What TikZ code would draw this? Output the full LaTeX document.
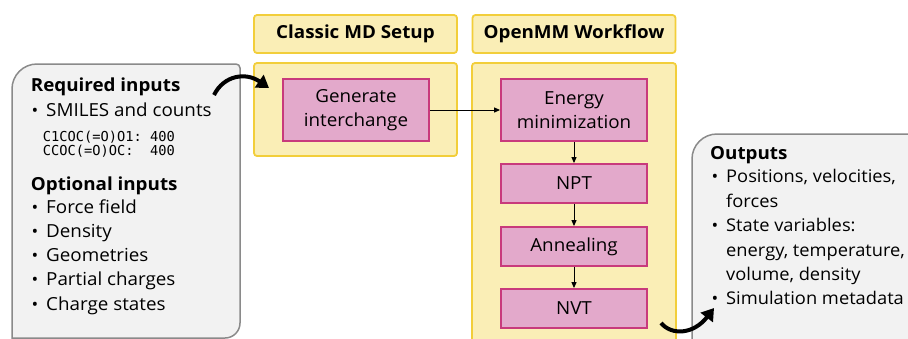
\documentclass[tikz,border=0pt]{standalone}
\usepackage{fontspec}
\setmainfont[FakeStretch=1.045]{Open Sans}
\setmonofont{DejaVu Sans Mono}
\usetikzlibrary{arrows.meta}
\definecolor{yfill}{HTML}{FAEEB6}
\definecolor{yborder}{HTML}{F2CE3A}
\definecolor{pfill}{HTML}{E3A9CB}
\definecolor{pborder}{HTML}{C83A7C}
\definecolor{gfill}{HTML}{F2F2F2}
\definecolor{gborder}{HTML}{8A8A8A}
\begin{document}
\begin{tikzpicture}[x=1pt,y=-1pt,
  txt/.style={anchor=base west, inner sep=0pt, font=\fontsize{18}{24}\selectfont},
  otxt/.style={anchor=base west, inner sep=0pt, font=\fontsize{17.5}{24}\selectfont},
  hd/.style={anchor=base west, inner sep=0pt, font=\fontsize{18}{24}\selectfont\bfseries},
  bul/.style={anchor=base, inner sep=0pt, font=\fontsize{17}{24}\selectfont},
  mono/.style={anchor=base west, inner sep=0pt, font=\fontsize{13.7}{16}\ttfamily},
  ybox/.style={draw=yborder, fill=yfill, line width=1.8pt, rounded corners=3pt, inner sep=0pt},
  pbox/.style={draw=pborder, fill=pfill, line width=1.8pt, inner sep=0pt, align=center,
    minimum width=146pt, font=\fontsize{18}{24}\selectfont},
  hbox/.style={ybox, minimum width=203pt, minimum height=38pt, font=\fontsize{18}{24}\selectfont\bfseries},
  flow/.style={-{Triangle[length=6pt,width=5pt]}, line width=1pt},
  big/.style={-{Triangle[length=12pt,width=15pt]}, line width=4pt}
]
\useasboundingbox (0,0) rectangle (908,338);
\clip (0,0) rectangle (908,338);
\fill[white] (0,0) rectangle (908,338);

% left input box
\draw[gborder, fill=gfill, line width=1.5pt]
  (12,345) -- (12,89) arc[start angle=180, end angle=270, radius=25]
  -- (236,64) arc[start angle=270, end angle=360, radius=4]
  -- (240,323) arc[start angle=0, end angle=90, radius=15]
  -- (12,338) -- cycle;

\node[hd] (req) at (30.7,91.7) {Required inputs};
\node[bul] (b0) at (35,116.7) {•};
\node[txt] (smi) at (46,116.7) {SMILES and counts};
\node[mono] (m1) at (42.7,141.7) {C1COC(=O)O1: 400};
\node[mono] (m2) at (42.7,155.5) {CCOC(=O)OC:\ \ 400};
\node[hd] (opt) at (30.7,190) {Optional inputs};
\foreach \t [count=\i from 0] in {Force field,Density,Geometries,Partial charges,Charge states}{
  \node[bul] (ob\i) at (35,213.3+24.2*\i) {•};
  \node[txt] (o\i) at (46,213.3+24.2*\i) {\t};
}

% output box
\draw[gborder, fill=gfill, line width=1.5pt]
  (692,345) -- (692,159) arc[start angle=180, end angle=270, radius=25]
  -- (915,134) -- (915,345) -- cycle;
\node[hd] (out) at (710,159.3) {Outputs};
\node[bul] (pb0) at (715,182.7) {•};
\node[otxt] (p0) at (726,182.7) {Positions, velocities,};
\node[otxt] (p1) at (726,207.2) {forces};
\node[bul] (pb1) at (715,231.6) {•};
\node[otxt] (p2) at (726,231.6) {State variables:};
\node[otxt] (p3) at (726,256.0) {energy, temperature,};
\node[otxt] (p4) at (726,280.4) {volume, density};
\node[bul] (pb2) at (715,304.8) {•};
\node[otxt] (p5) at (726,304.8) {Simulation metadata};

% headers
\node[hbox] (hclassic) at (355.5,34) {Classic MD Setup};
\node[hbox] (hopenmm) at (574,34) {OpenMM Workflow};

% containers
\draw[ybox] (254,63) rectangle (457,156);
\node (cclassic) at (355.5,109.5) {};
\draw[ybox] (472,63) rectangle (676,360);
\node (copenmm) at (574,200) {};

% steps
\node[pbox, minimum height=62pt] (gen) at (356,110) {Generate\\interchange};
\node[pbox, minimum height=62pt] (emin) at (574,110) {Energy\\minimization};
\node[pbox, minimum height=39pt] (npt) at (574,183.5) {NPT};
\node[pbox, minimum height=39pt] (ann) at (574,246.5) {Annealing};
\node[pbox, minimum height=39pt] (nvt) at (574,308.5) {NVT};

\draw[flow] (gen) -- (emin);
\draw[flow] (emin) -- (npt);
\draw[flow] (npt) -- (ann);
\draw[flow] (ann) -- (nvt);

% big curved arrows
\coordinate (a1s) at (214,95);
\coordinate (a1e) at (269,88);
\draw[big] (a1s) .. controls (224,75) and (246,72) .. (a1e);
\coordinate (a2s) at (661,323);
\coordinate (a2e) at (714,308);
\draw[big] (a2s) .. controls (672,336) and (694,334) .. (a2e);
\end{tikzpicture}
\end{document}
